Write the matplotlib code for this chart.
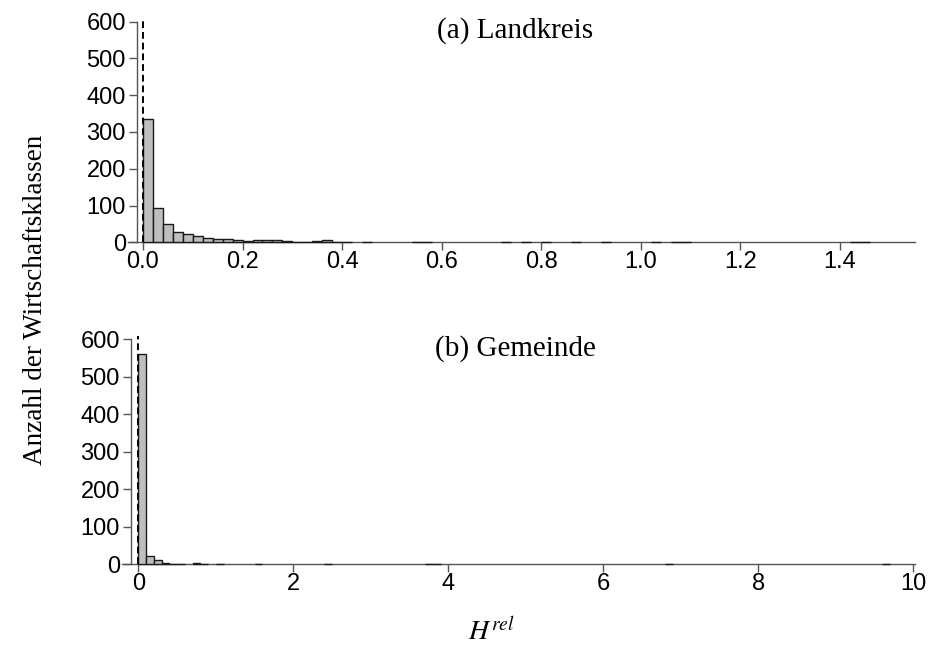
import numpy as np
import matplotlib
matplotlib.use("Agg")
import matplotlib.pyplot as plt

# ---------------- data ----------------
# (a) Landkreis: histogram of H^rel, bins of width 0.02 starting at 0
top_bin_width = 0.02
top_counts = [336, 94, 50, 29, 22, 17, 11, 9, 8, 6,
              4, 7, 5, 5, 3, 2, 2, 3, 5, 2,
              1, 0, 2, 0, 0, 0, 0, 1, 1, 0,
              0, 0, 0, 0, 0, 0, 1, 0, 1, 0,
              1, 0, 0, 1, 0, 0, 1, 0, 0, 0,
              0, 1, 0, 1, 1, 0, 0, 0, 0, 0,
              0, 0, 0, 0, 0, 0, 0, 0, 0, 0,
              0, 1, 1]
top_xticks = [0.0, 0.2, 0.4, 0.6, 0.8, 1.0, 1.2, 1.4]
top_xticklabels = ["0.0", "0.2", "0.4", "0.6", "0.8", "1.0", "1.2", "1.4"]

# (b) Gemeinde: histogram of H^rel, bins of width 0.1 starting at 0
bot_bin_width = 0.1
bot_counts = [560, 23, 12, 4, 1, 1, 0, 3, 1, 0,
              1, 0, 0, 0, 0, 1, 0, 0, 0, 0,
              0, 0, 0, 0, 1, 0, 0, 0, 0, 0,
              0, 0, 0, 0, 0, 0, 0, 1, 1, 0,
              0, 0, 0, 0, 0, 0, 0, 0, 0, 0,
              0, 0, 0, 0, 0, 0, 0, 0, 0, 0,
              0, 0, 0, 0, 0, 0, 0, 0, 1, 0,
              0, 0, 0, 0, 0, 0, 0, 0, 0, 0,
              0, 0, 0, 0, 0, 0, 0, 0, 0, 0,
              0, 0, 0, 0, 0, 0, 1]
bot_xticks = [0, 2, 4, 6, 8, 10]
bot_xticklabels = ["0", "2", "4", "6", "8", "10"]

yticks = [0, 100, 200, 300, 400, 500, 600]
yticklabels = ["0", "100", "200", "300", "400", "500", "600"]

titles = ["(a) Landkreis", "(b) Gemeinde"]
ylabel = "Anzahl der Wirtschaftsklassen"
xlabel = r"$H^{rel}$"

# ---------------- layout ----------------
W, H = 932, 648
fig = plt.figure(figsize=(W / 100, H / 100), dpi=100)
plt.rcParams["mathtext.fontset"] = "stix"


def rect(left, right, top, bottom):
    return [left / W, 1 - bottom / H, (right - left) / W, (bottom - top) / H]


axes_cfg = [
    dict(rect=rect(128, 915, 18, 242.3), xlim=(-0.0301, 1.5505), ylim=(0, 610),
         counts=top_counts, bw=top_bin_width, xt=top_xticks, xtl=top_xticklabels,
         title=titles[0], tx=0.492, ty=0.942),
    dict(rect=rect(122, 915, 336, 564.3), xlim=(-0.21, 10.02), ylim=(0, 608),
         counts=bot_counts, bw=bot_bin_width, xt=bot_xticks, xtl=bot_xticklabels,
         title=titles[1], tx=0.496, ty=0.947),
]

axis_col = "#555555"
for cfg in axes_cfg:
    ax = fig.add_axes(cfg["rect"])
    counts = np.asarray(cfg["counts"], dtype=float)
    edges = np.arange(len(counts)) * cfg["bw"]
    nz = counts > 0
    bars = ax.bar(edges[nz], counts[nz], width=cfg["bw"], align="edge",
                  color="#bebebe", edgecolor="#1a1a1a", linewidth=1.0, zorder=3)
    for b in bars:
        b.set_clip_on(False)
    ax.axhline(0, color=axis_col, lw=1.0, zorder=2, clip_on=False)
    ax.axvline(0, color="black", lw=1.4, linestyle=(0, (3.5, 2)), zorder=4,
               clip_on=False)
    ax.set_xlim(*cfg["xlim"])
    ax.set_ylim(*cfg["ylim"])
    for s in ["top", "right", "bottom"]:
        ax.spines[s].set_visible(False)
    ax.spines["left"].set_position(("axes", 0.0114))
    ax.spines["left"].set_bounds(0, 600)
    ax.spines["left"].set_color(axis_col)
    ax.spines["left"].set_linewidth(1.0)
    ax.set_yticks(yticks)
    ax.set_yticklabels(yticklabels)
    ax.set_xticks(cfg["xt"])
    ax.set_xticklabels(cfg["xtl"])
    ax.tick_params(axis="both", direction="out", length=6, width=1.0,
                   color=axis_col, labelcolor="black", labelsize=17, pad=2)
    ax.tick_params(axis="x", pad=0)
    for lab in ax.get_xticklabels() + ax.get_yticklabels():
        lab.set_fontfamily("Liberation Sans")
    ax.text(cfg["tx"], cfg["ty"], cfg["title"], transform=ax.transAxes,
            ha="center", va="center", fontsize=21, family="Liberation Serif")

fig.text(36 / W, 1 - 300 / H, ylabel, rotation=90, ha="center", va="center",
         fontsize=19.5, family="Liberation Serif")
fig.text(491 / W, 1 - 632 / H, xlabel, ha="center", va="center", fontsize=20)

fig.savefig("out.png", dpi=100)
